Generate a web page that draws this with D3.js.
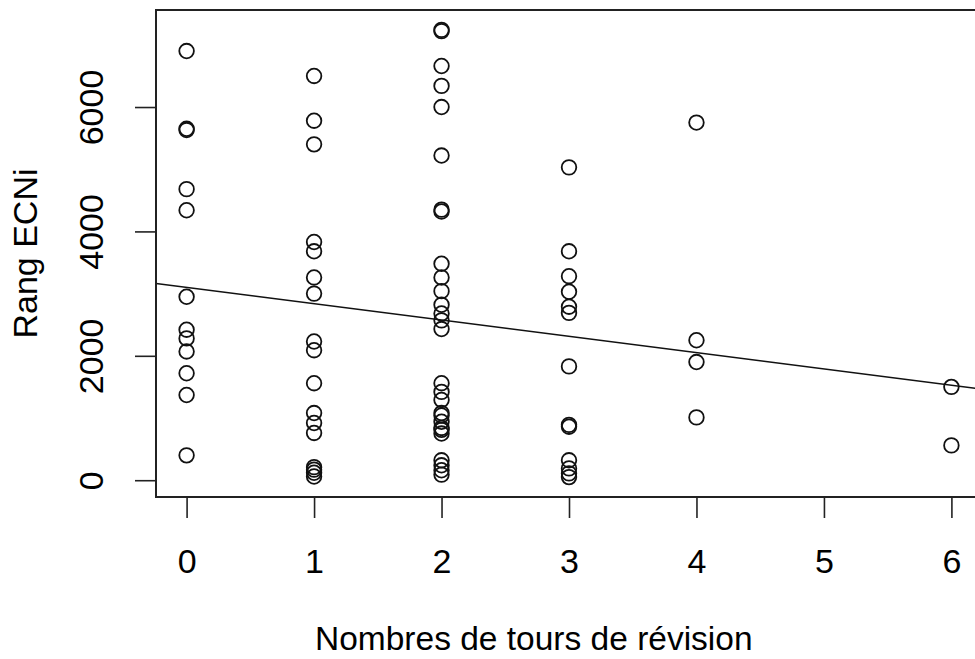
<!DOCTYPE html>
<html>
<head>
<meta charset="utf-8">
<script src="https://cdn.jsdelivr.net/npm/d3@7"></script>
<style>
  body { margin: 0; background: #fff; }
  text { font-family: "Liberation Sans", Arial, sans-serif; fill: #000; }
</style>
</head>
<body>
<div id="main"></div>
<script>
// values
const rang0 = [6900, 5650, 5630, 4680, 4340, 2950, 2420, 2280, 2070, 1720, 1370, 400]
const rang1 = [6500, 5780, 5400, 3830, 3680, 3260, 3000, 2230, 2090, 1560, 1080, 920, 760, 210, 170, 120, 60]
const rang2 = [7240, 7220, 6660, 6340, 6000, 5220, 4350, 4320, 3480, 3260, 3040, 2820, 2680, 2570, 2430,
               1560, 1420, 1290, 1080, 1040, 940, 840, 810, 750, 320, 240, 160, 90]
const rang3 = [5030, 3680, 3280, 3030, 2790, 2690, 1830, 890, 860, 320, 190, 110, 50]
const rang4 = [5750, 2250, 1900, 1010]
const rang6 = [1500, 560]

const tours = [0, 1, 2, 3, 4, 6]
const rangs = [rang0, rang1, rang2, rang3, rang4, rang6]

const xTicks = [0, 1, 2, 3, 4, 5, 6]
const yTicks = [0, 2000, 4000, 6000]

// fitted line y = a + b*x
const intercept = 3100,
      slope = -262

const xLim = [-0.24, 6.24],
      yLim = [-270, 7560]

let width = 975,
    height = 659

let points = []
tours.forEach((t, i) => rangs[i].forEach(r => points.push({ x: t, y: r })))

var svg = d3.select("div#main")
    .append("svg")
    .attr("width", width)
    .attr("height", height);

const x = d3.scaleLinear().domain(xLim).range([156, 982])
const y = d3.scaleLinear().domain(yLim).range([497, 10])

const fs = 34

// points
svg.append("g")
    .selectAll("circle")
    .data(points)
    .join("circle")
    .attr("cx", d => x(d.x))
    .attr("cy", d => y(d.y))
    .attr("r", 7.3)
    .attr("fill", "none")
    .attr("stroke", "#111")
    .attr("stroke-width", 1.8);

// regression line, clipped to the box
svg.append("clipPath").attr("id", "clip")
    .append("rect")
    .attr("x", x(xLim[0])).attr("y", y(yLim[1]))
    .attr("width", x(xLim[1]) - x(xLim[0]))
    .attr("height", y(yLim[0]) - y(yLim[1]));

svg.append("line")
    .attr("clip-path", "url(#clip)")
    .attr("x1", x(xLim[0])).attr("y1", y(intercept + slope * xLim[0]))
    .attr("x2", x(xLim[1])).attr("y2", y(intercept + slope * xLim[1]))
    .attr("stroke", "#111")
    .attr("stroke-width", 1.6);

// box
svg.append("rect")
    .attr("x", x(xLim[0])).attr("y", y(yLim[1]))
    .attr("width", x(xLim[1]) - x(xLim[0]))
    .attr("height", y(yLim[0]) - y(yLim[1]))
    .attr("fill", "none")
    .attr("stroke", "#222")
    .attr("stroke-width", 2);

// x axis
let xAxis = svg.append("g")
    .attr("transform", `translate(0,${y(yLim[0])})`)
    .call(d3.axisBottom(x).tickValues(xTicks).tickSize(21).tickPadding(0).tickFormat(d3.format("d")))
xAxis.select(".domain")
    .attr("d", `M${x(0)},0H${x(6)}`)
    .attr("stroke", "#222").attr("stroke-width", 1.6)
xAxis.selectAll(".tick line").attr("stroke", "#222").attr("stroke-width", 1.6)
xAxis.selectAll(".tick text")
    .attr("dy", null)
    .attr("y", 76)
    .attr("font-size", fs)
    .attr("font-family", "Liberation Sans, Arial, sans-serif")
    .attr("fill", "#000")

// y axis
let yAxis = svg.append("g")
    .attr("transform", `translate(${x(xLim[0])},0)`)
    .call(d3.axisLeft(y).tickValues(yTicks).tickSize(21).tickPadding(0).tickFormat(d3.format("d")))
yAxis.select(".domain")
    .attr("d", `M0,${y(0)}V${y(6000)}`)
    .attr("stroke", "#222").attr("stroke-width", 1.6)
yAxis.selectAll(".tick line").attr("stroke", "#222").attr("stroke-width", 1.6)
yAxis.selectAll(".tick text")
    .attr("x", null).attr("dy", null)
    .attr("text-anchor", "middle")
    .attr("transform", "translate(-53,0) rotate(-90)")
    .attr("font-size", fs)
    .attr("font-family", "Liberation Sans, Arial, sans-serif")
    .attr("fill", "#000")

// axis titles
svg.append("text")
    .attr("x", 315)
    .attr("y", 650)
    .attr("text-anchor", "start")
    .attr("font-size", 33.5)
    .text("Nombres de tours de révision");

svg.append("text")
    .attr("transform", `translate(37,${(y(yLim[0]) + y(yLim[1])) / 2}) rotate(-90)`)
    .attr("text-anchor", "middle")
    .attr("font-size", fs)
    .text("Rang ECNi");
</script>
</body>
</html>
